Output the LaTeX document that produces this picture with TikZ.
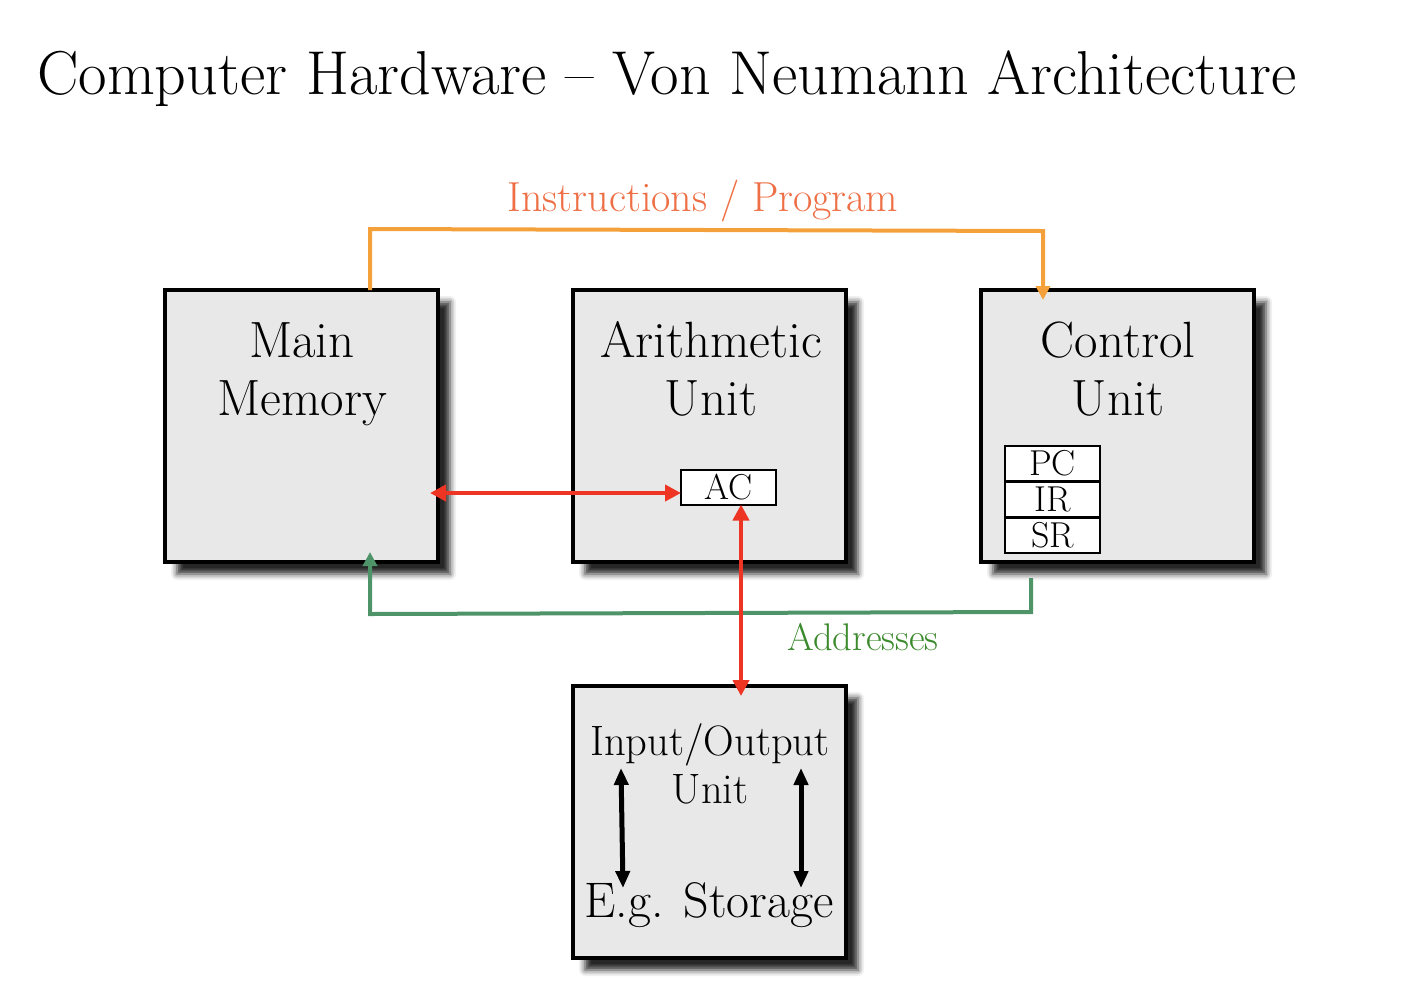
\documentclass[tikz,border=0pt]{standalone}
\usetikzlibrary{arrows.meta,shadows.blur,calc}
\definecolor{boxfill}{HTML}{E8E8E8}
\definecolor{orangeline}{HTML}{F4A13B}
\definecolor{orangetext}{HTML}{EE6F45}
\definecolor{redline}{HTML}{EE3524}
\definecolor{greenline}{HTML}{4F9468}
\definecolor{greentext}{HTML}{3C8A2E}
\begin{document}
\begin{tikzpicture}[x=1pt,y=-1pt,
  unitbox/.style={draw=black,line width=4pt,fill=boxfill,minimum width=273pt,minimum height=272pt,inner sep=0pt,outer sep=0pt,
    blur shadow={shadow xshift=12pt,shadow yshift=-12pt,shadow opacity=85,shadow blur radius=6pt}},
  reg/.style={draw=black,line width=2pt,fill=white,minimum width=95pt,minimum height=35pt,inner sep=0pt,outer sep=0pt,font=\fontsize{36}{36}\selectfont},
  boxtext/.style={anchor=base,inner sep=0pt,font=\fontsize{51}{51}\selectfont},
  iotext/.style={anchor=base,inner sep=0pt,font=\fontsize{42.5}{42.5}\selectfont},
  wire/.style={line width=4pt},
  redarrow/.style={wire,draw=redline,{Triangle[length=16pt,width=16pt]}-{Triangle[length=16pt,width=16pt]}},
  orangearrow/.style={wire,draw=orangeline,-{Triangle[length=14pt,width=14pt]}},
  greenarrow/.style={wire,draw=greenline,-{Triangle[length=14pt,width=14pt]}},
  blackarrow/.style={line width=5pt,draw=black,{Triangle[length=17pt,width=14pt]}-{Triangle[length=17pt,width=14pt]}}
]
\useasboundingbox (0,0) rectangle (1412,986);

% title
\node[anchor=base west,inner sep=0pt,font=\fontsize{62}{62}\selectfont] (title) at (37,94) {Computer Hardware -- Von Neumann Architecture};

% boxes
\node[unitbox] (mm) at (301.5,426) {};
\node[unitbox] (au) at (709.5,426) {};
\node[unitbox] (cu) at (1117.5,426) {};
\node[unitbox] (io) at (709.5,822) {};

% box texts
\node[boxtext] (mm1) at (302,357) {Main};
\node[boxtext] (mm2) at (302,415) {Memory};
\node[boxtext] (au1) at (711,357) {Arithmetic};
\node[boxtext] (au2) at (711,415) {Unit};
\node[boxtext] (cu1) at (1118,357) {Control};
\node[boxtext] (cu2) at (1118,415) {Unit};
\node[iotext] (io1) at (710,755) {Input/Output};
\node[iotext] (io2) at (710,803) {Unit};
\node[anchor=base,inner sep=0pt,font=\fontsize{50}{50}\selectfont] (io3) at (709,917) {E.g. Storage};

% registers
\node[reg] (ac) at (728.5,487) {AC};
\node[reg] (pc) at (1052.5,463) {PC};
\node[reg] (ir) at (1052.5,499) {IR};
\node[reg] (sr) at (1052.5,535) {SR};

% labels
\node[anchor=base,inner sep=0pt,text=orangetext,font=\fontsize{42}{42}\selectfont] (instr) at (703,211) {Instructions / Program};
\node[anchor=base,inner sep=0pt,text=greentext,font=\fontsize{38.5}{38.5}\selectfont] (addr) at (863,650) {Addresses};

% orange: instructions
\coordinate (oStart) at ($(mm.north west)+(205,0)$);
\coordinate (oEnd) at ($(cu.north west)+(62,10)$);
\draw[orangearrow] (oStart) -- (oStart |- 0,229) -- (oEnd |- 0,231) -- (oEnd);

% green: addresses
\coordinate (gStart) at ($(cu.south west)+(50,16)$);
\coordinate (gEnd) at ($(mm.south west)+(205,-10)$);
\draw[greenarrow] (gStart) -- (gStart |- 0,612) -- (gEnd |- 0,614) -- (gEnd);

% red: memory <-> AC
\coordinate (rMem) at ($(mm.east |- ac.west)+(-8,6)$);
\draw[redarrow] (rMem) -- ($(ac.west)+(0,6)$);

% red: AC <-> IO
\coordinate (rAC) at ($(ac.south)+(12.5,0)$);
\coordinate (rIO) at ($(io.north)+(31.5,10)$);
\draw[redarrow] (rAC) -- (rIO);

% black arrows in IO
\coordinate (bl1) at (621,768);
\coordinate (bl2) at (623,888);
\coordinate (br1) at (801,768);
\coordinate (br2) at (801,888);
\draw[blackarrow] (bl1) -- (bl2);
\draw[blackarrow] (br1) -- (br2);
\end{tikzpicture}
\end{document}
